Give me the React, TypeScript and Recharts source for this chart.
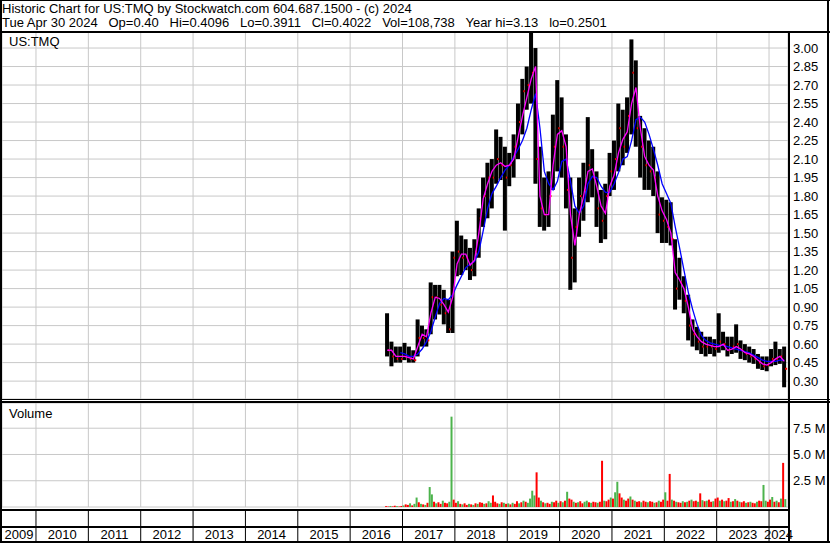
import React from "react";
import { ComposedChart, Bar, Line, XAxis, YAxis, CartesianGrid, Cell } from "recharts";

const FONT = '"Liberation Sans", Arial, sans-serif';

const HEADER_1 = "Historic Chart for US:TMQ by Stockwatch.com 604.687.1500 - (c) 2024";
const HEADER_2 =
  "Tue Apr 30 2024   Op=0.40   Hi=0.4096   Lo=0.3911   Cl=0.4022   Vol=108,738   Year hi=3.13   lo=0.2501";

// time axis in decimal years (visible window May 2009 - Apr 2024)
const X_MIN = 2009.351;
const X_MAX = 2024.362;
const yearBounds = [2010, 2011, 2012, 2013, 2014, 2015, 2016, 2017, 2018, 2019, 2020, 2021, 2022, 2023, 2024];
const yearLabels = ["2009", "2010", "2011", "2012", "2013", "2014", "2015", "2016", "2017", "2018", "2019", "2020", "2021", "2022", "2023", "2024"];

const priceTicks = [0.3, 0.45, 0.6, 0.75, 0.9, 1.05, 1.2, 1.35, 1.5, 1.65, 1.8, 1.95, 2.1, 2.25, 2.4, 2.55, 2.7, 2.85, 3.0];
const volumeTicks = [2.5, 5, 7.5];

// monthly bars, Sep 2016 .. Apr 2024
const FIRST_MONTH = 2016 + 8 / 12;
const priceHigh = [
  0.85, 0.62, 0.58, 0.58,
  0.61, 0.58, 0.55, 0.80, 0.75, 0.72, 1.10, 1.08, 1.08, 1.04, 0.96, 1.35,
  1.60, 1.48, 1.45, 1.38, 1.45, 1.70, 1.95, 2.07, 2.10, 2.34, 2.28, 2.20,
  2.15, 2.30, 2.55, 2.75, 2.85, 3.13, 3.00, 2.20, 1.95, 2.00, 2.46, 2.74,
  2.60, 2.30, 1.95, 1.70, 1.95, 2.07, 2.44, 2.18, 2.00, 1.85, 1.90, 2.15,
  2.25, 2.55, 2.50, 2.60, 3.07, 2.90, 2.45, 2.35, 2.25, 2.20, 2.00, 1.79,
  1.77, 1.75, 1.45, 1.30, 1.15, 1.00, 0.80, 0.74, 0.70, 0.66, 0.66, 0.64,
  0.85, 0.70, 0.66, 0.66, 0.76, 0.63, 0.60, 0.58, 0.56, 0.52, 0.50, 0.50,
  0.56, 0.62, 0.56, 0.58,
];
const priceLow = [
  0.50, 0.42, 0.45, 0.45,
  0.47, 0.45, 0.45, 0.50, 0.58, 0.58, 0.68, 0.80, 0.84, 0.76, 0.69, 0.69,
  1.15, 1.16, 1.20, 1.12, 1.15, 1.30, 1.55, 1.62, 1.70, 1.90, 1.93, 1.52,
  1.88, 1.95, 2.10, 2.30, 2.50, 2.55, 1.90, 1.55, 1.52, 1.55, 1.85, 2.00,
  1.95, 1.70, 1.04, 1.10, 1.47, 1.60, 1.75, 1.79, 1.55, 1.42, 1.45, 1.80,
  1.85, 2.00, 2.05, 2.15, 2.30, 2.20, 1.95, 1.85, 1.85, 1.80, 1.50, 1.42,
  1.42, 1.40, 0.88, 0.96, 0.85, 0.63, 0.58, 0.55, 0.52, 0.50, 0.52, 0.50,
  0.53, 0.55, 0.50, 0.52, 0.53, 0.48, 0.47, 0.45, 0.44, 0.40, 0.39, 0.38,
  0.42, 0.43, 0.44, 0.25,
];
const priceClose = [
  0.55, 0.50, 0.48, 0.48,
  0.50, 0.48, 0.47, 0.65, 0.65, 0.63, 0.98, 0.98, 0.92, 0.85, 0.72, 1.30,
  1.35, 1.30, 1.30, 1.20, 1.35, 1.62, 1.80, 1.95, 1.95, 2.10, 2.05, 1.95,
  2.05, 2.20, 2.40, 2.65, 2.70, 2.80, 2.10, 1.70, 1.65, 1.80, 2.20, 2.35,
  2.20, 1.85, 1.30, 1.55, 1.80, 1.85, 2.05, 1.95, 1.70, 1.60, 1.80, 2.00,
  2.10, 2.35, 2.20, 2.45, 2.80, 2.35, 2.20, 2.05, 2.00, 1.95, 1.65, 1.60,
  1.55, 1.45, 1.05, 1.10, 0.95, 0.75, 0.68, 0.62, 0.58, 0.58, 0.58, 0.56,
  0.62, 0.60, 0.55, 0.58, 0.60, 0.55, 0.52, 0.50, 0.48, 0.45, 0.42, 0.43,
  0.48, 0.48, 0.50, 0.40,
];
const maFast = [
  0.55, 0.55, 0.50, 0.50,
  0.50, 0.49, 0.48, 0.58, 0.68, 0.66, 0.85, 0.98, 0.97, 0.92, 0.86, 0.98,
  1.25, 1.33, 1.33, 1.24, 1.28, 1.50, 1.78, 1.90, 2.00, 2.05, 2.07, 2.04,
  2.05, 2.10, 2.28, 2.45, 2.60, 2.75, 2.85, 1.80, 1.65, 1.65, 2.05, 2.30,
  2.33, 2.20, 1.65, 1.40, 1.65, 1.80, 2.00, 2.02, 1.88, 1.72, 1.66, 1.88,
  1.97, 2.15, 2.26, 2.32, 2.55, 2.68, 2.35, 2.12, 2.05, 2.01, 1.80, 1.68,
  1.61, 1.50, 1.18, 1.12, 1.05, 0.90, 0.72, 0.66, 0.62, 0.60, 0.59, 0.58,
  0.58, 0.60, 0.55, 0.56, 0.58, 0.56, 0.53, 0.52, 0.50, 0.47, 0.44, 0.43,
  0.45, 0.48, 0.50, 0.46,
];
const maSlow = [
  null, null, null, 0.53,
  0.52, 0.50, 0.50, 0.52, 0.56, 0.62, 0.70, 0.82, 0.93, 0.97, 0.96, 1.00,
  1.08, 1.15, 1.22, 1.25, 1.27, 1.35, 1.52, 1.70, 1.82, 1.88, 1.95, 2.01,
  2.05, 2.12, 2.18, 2.25, 2.35, 2.50, 2.63, 2.35, 2.00, 1.90, 1.85, 1.92,
  2.08, 2.10, 1.92, 1.72, 1.66, 1.72, 1.90, 1.96, 1.95, 1.88, 1.83, 1.83,
  1.90, 1.99, 2.10, 2.12, 2.25, 2.42, 2.44, 2.40, 2.30, 2.18, 2.05, 1.90,
  1.82, 1.74, 1.55, 1.38, 1.20, 1.02, 0.88, 0.76, 0.67, 0.63, 0.61, 0.60,
  0.59, 0.59, 0.58, 0.57, 0.56, 0.55, 0.54, 0.53, 0.51, 0.49, 0.47, 0.46,
  0.46, 0.46, 0.47, 0.47,
];

// half-month volume slots, Sep 2016 .. Apr 2024, in millions
const volume = [
  0.08, 0.05, 0.10, 0.06, 0.12, 0.08, 0.05, 0.10,
  0.15, 0.25, 0.20, 0.35, 0.15, 0.30, 0.90, 0.45, 0.30, 0.25, 0.20, 0.40, 1.90, 1.20, 0.50, 0.35, 0.45, 0.30, 0.60, 0.40, 0.35, 0.50, 8.60, 0.70,
  0.40, 0.55, 0.30, 0.25, 0.35, 0.20, 0.30, 0.25, 0.20, 0.35, 0.30, 0.45, 0.40, 0.30, 0.35, 0.55, 0.40, 1.10, 0.50, 0.35, 0.30, 0.45, 0.40, 0.30,
  0.35, 0.25, 0.40, 0.30, 0.55, 0.35, 0.45, 0.60, 0.50, 0.40, 0.80, 1.55, 1.10, 3.30, 0.90, 0.60, 0.45, 0.35, 0.40, 0.30, 0.50, 0.45, 0.60, 0.40,
  0.55, 0.45, 0.60, 1.45, 0.80, 0.70, 0.50, 0.40, 0.45, 0.55, 0.35, 0.50, 0.60, 0.45, 0.40, 0.50, 0.45, 0.40, 0.50, 4.40, 0.60, 0.55, 0.70, 0.90,
  0.80, 1.40, 2.40, 1.30, 0.90, 0.70, 0.60, 0.80, 1.00, 0.70, 0.60, 0.50, 0.55, 0.45, 0.60, 0.50, 0.45, 0.55, 0.50, 0.40, 0.45, 0.60, 0.50, 0.70,
  1.40, 0.60, 3.15, 0.70, 0.60, 0.50, 0.45, 0.40, 0.55, 0.45, 0.50, 0.60, 0.70, 0.55, 0.60, 0.50, 1.30, 0.65, 0.55, 0.60, 0.70, 0.50, 0.55, 0.80,
  0.90, 0.60, 0.70, 0.55, 0.60, 0.85, 0.50, 0.55, 0.75, 0.60, 0.50, 0.45, 0.55, 0.40, 0.45, 0.50, 0.40, 0.35, 0.50, 0.60, 0.55, 2.10, 0.60, 0.50,
  0.70, 0.95, 0.50, 0.60, 0.45, 0.80, 4.20, 0.75,
];
// g = up day colour, r = down day colour
const volumeDir =
  "rrgrrgrr" +
  "grrgrggrgrgrggrgrrgrrggr" +
  "rgrgrrgrgrgrrgrggrrrgrgr" +
  "grgrrgrgrggggrrgrgrrgrrg" +
  "rgrgrrgrgrrggrgrrgrrgrrg" +
  "rggrrgrrgrgrrgrrgrrgrgrr" +
  "grrgrgrrgrgrgrrgrgrgrrgr" +
  "rgrgrrgrgrgrrgrgrrgrrggr" +
  "rgrgrgrg";

const priceData = priceHigh.map((h, i) => ({
  t: FIRST_MONTH + (i + 0.5) / 12,
  high: h,
  low: priceLow[i],
  close: priceClose[i],
  range: [priceLow[i], h],
  fast: maFast[i],
  slow: maSlow[i],
}));

const volumeData = volume.map((v, i) => ({
  t: FIRST_MONTH + (i + 0.5) / 24,
  vol: v,
  dir: volumeDir[i],
}));

const labelTicks = yearLabels.map((_, i) => {
  if (i === 0) return (X_MIN + yearBounds[0]) / 2;
  if (i === yearLabels.length - 1) return (yearBounds[yearBounds.length - 1] + X_MAX) / 2;
  return yearBounds[i - 1] + 0.5;
});
const stripTicks = [...yearBounds, ...labelTicks].sort((a, b) => a - b);

const GRID = "#c8c8c8";

const OhlcBar = (props: any) => {
  const { x, y, width, height, payload } = props;
  const top = Math.min(y, y + height);
  const h = Math.max(Math.abs(height), 1);
  const cy = top + ((payload.high - payload.close) / (payload.high - payload.low)) * h;
  return (
    <g>
      <rect x={x} y={top} width={width} height={h} fill="#000" />
      <rect x={x + width - 1} y={cy - 1} width={2} height={2} fill="#ff0000" />
    </g>
  );
};

const YearTick = (props: any) => {
  const { x, payload } = props;
  const v = payload.value;
  if (Number.isInteger(v)) {
    return <line x1={x} x2={x} y1={108} y2={138} stroke="#000" strokeWidth={1} />;
  }
  return (
    <text x={x} y={136} textAnchor="middle" fontSize={13} fontFamily={FONT} fill="#000">
      {Math.floor(v)}
    </text>
  );
};

const line = (style: React.CSSProperties) => (
  <div style={{ position: "absolute", background: "#000", ...style }} />
);

export default function App() {
  return (
    <div
      style={{
        position: "absolute",
        left: 0,
        top: 0,
        width: 830,
        height: 543,
        background: "#fff",
        fontFamily: FONT,
        overflow: "hidden",
      }}
    >
      <div style={{ position: "absolute", left: 2, top: 2, fontSize: 13, lineHeight: "13px", whiteSpace: "pre" }}>
        {HEADER_1}
      </div>
      <div style={{ position: "absolute", left: 2, top: 16, fontSize: 13, lineHeight: "13px", whiteSpace: "pre" }}>
        {HEADER_2}
      </div>

      <div style={{ position: "absolute", left: 0, top: 32 }}>
        <ComposedChart width={830} height={367} data={priceData} margin={{ top: 0, right: 2, bottom: 0, left: 2 }}>
          <CartesianGrid stroke={GRID} strokeWidth={1} />
          <XAxis type="number" dataKey="t" domain={[X_MIN, X_MAX]} ticks={yearBounds} hide allowDataOverflow />
          <YAxis
            orientation="right"
            width={40}
            domain={[0.155, 3.13]}
            ticks={priceTicks}
            interval={0}
            allowDataOverflow
            axisLine={false}
            tickLine={false}
            tickSize={0}
            tickMargin={5}
            tickFormatter={(v: number) => v.toFixed(2)}
            tick={{ fontSize: 13, fill: "#000", fontFamily: FONT, textAnchor: "start" }}
          />
          <Bar dataKey="range" barSize={4} shape={OhlcBar} isAnimationActive={false} />
          <Line dataKey="slow" stroke="#0000ff" strokeWidth={1.3} dot={false} isAnimationActive={false} />
          <Line dataKey="fast" stroke="#ff00ff" strokeWidth={1.3} dot={false} isAnimationActive={false} />
        </ComposedChart>
      </div>
      <div style={{ position: "absolute", left: 9, top: 35, fontSize: 13, lineHeight: "13px" }}>US:TMQ</div>

      <div style={{ position: "absolute", left: 0, top: 403 }}>
        <ComposedChart width={830} height={140} data={volumeData} margin={{ top: 0, right: 2, bottom: 0, left: 2 }}>
          <CartesianGrid stroke={GRID} strokeWidth={1} xAxisId="t" />
          <XAxis xAxisId="t" type="number" dataKey="t" domain={[X_MIN, X_MAX]} ticks={yearBounds} hide allowDataOverflow />
          <XAxis
            xAxisId="yr"
            type="number"
            dataKey="t"
            domain={[X_MIN, X_MAX]}
            ticks={stripTicks}
            interval={0}
            allowDataOverflow
            height={36}
            axisLine={false}
            tickLine={false}
            tick={YearTick}
          />
          <YAxis
            orientation="right"
            width={40}
            domain={[0, 9.9]}
            ticks={volumeTicks}
            interval={0}
            allowDataOverflow
            axisLine={false}
            tickLine={false}
            tickSize={0}
            tickMargin={5}
            tickFormatter={(v: number) => v.toFixed(1) + " M"}
            tick={{ fontSize: 13, fill: "#000", fontFamily: FONT, textAnchor: "start" }}
          />
          <Bar xAxisId="t" dataKey="vol" barSize={2} isAnimationActive={false}>
            {volumeData.map((d, i) => (
              <Cell key={i} fill={d.dir === "g" ? "#4cb34c" : "#ff0000"} />
            ))}
          </Bar>
        </ComposedChart>
      </div>
      <div style={{ position: "absolute", left: 9, top: 407, fontSize: 13, lineHeight: "13px" }}>Volume</div>

      {line({ left: 0, top: 0, width: 830, height: 1 })}
      {line({ left: 0, top: 0, width: 2, height: 543 })}
      {line({ left: 827, top: 0, width: 2, height: 543 })}
      {line({ left: 0, top: 31, width: 830, height: 2 })}
      {line({ left: 788, top: 31, width: 2, height: 512 })}
      {line({ left: 0, top: 399, width: 830, height: 1 })}
      {line({ left: 0, top: 401, width: 830, height: 2 })}
      {line({ left: 0, top: 509, width: 790, height: 2 })}
      {line({ left: 0, top: 526, width: 790, height: 2 })}
      {line({ left: 0, top: 541, width: 830, height: 2 })}
    </div>
  );
}
